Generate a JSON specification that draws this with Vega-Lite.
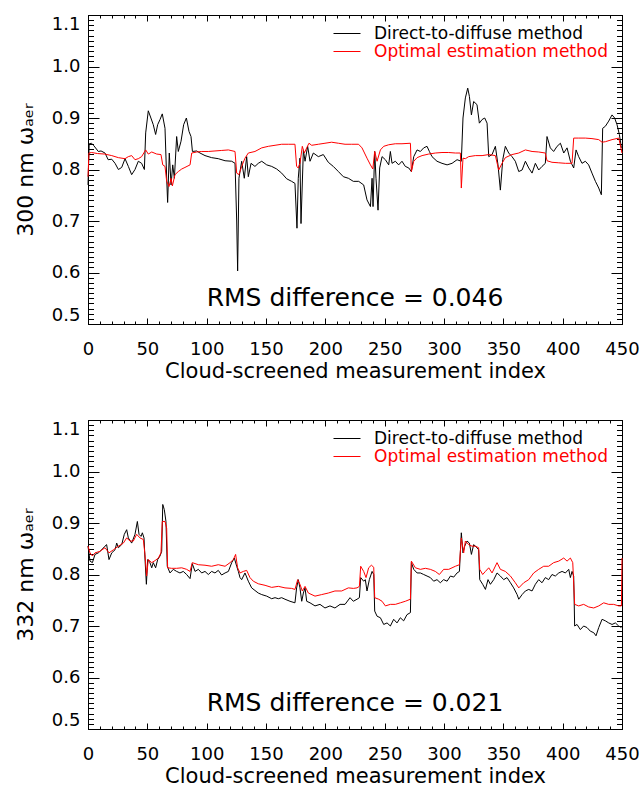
{
  "$schema": "https://vega.github.io/schema/vega-lite/v6.json",
  "padding": {"left": 14, "top": 14, "right": 5, "bottom": 0},
  "background": "white",
  "config": {
    "view": {"stroke": null},
    "font": "DejaVu Sans",
    "axis": {
      "grid": false,
      "domainColor": "black",
      "domainWidth": 1,
      "tickColor": "black",
      "tickWidth": 1,
      "labelColor": "black",
      "titleColor": "black",
      "labelFont": "DejaVu Sans",
      "titleFont": "DejaVu Sans",
      "labelFontSize": 18,
      "titleFontSize": 21,
      "titleFontWeight": "normal",
      "labelOverlap": false
    },
    "legend": {
      "labelFont": "DejaVu Sans",
      "labelFontSize": 17,
      "labelLimit": 0
    }
  },
  "datasets": {
    "d300": [
      {"idx":0,"omega":0.77},{"idx":1,"omega":0.85},{"idx":3,"omega":0.851},{"idx":5,"omega":0.846},{"idx":8.7,"omega":0.835},{"idx":11,"omega":0.836},{"idx":14.3,"omega":0.832},{"idx":17,"omega":0.819},{"idx":20,"omega":0.82},{"idx":22.8,"omega":0.812},{"idx":25.6,"omega":0.8},{"idx":28.4,"omega":0.804},{"idx":31.2,"omega":0.821},{"idx":34,"omega":0.806},{"idx":36.8,"omega":0.79},{"idx":39.6,"omega":0.8},{"idx":42.4,"omega":0.816},{"idx":45.2,"omega":0.812},{"idx":47.5,"omega":0.8},{"idx":48.6,"omega":0.871},{"idx":50.8,"omega":0.914},{"idx":53,"omega":0.9},{"idx":55,"omega":0.887},{"idx":57,"omega":0.868},{"idx":58.7,"omega":0.887},{"idx":60.7,"omega":0.897},{"idx":62.6,"omega":0.908},{"idx":64.9,"omega":0.88},{"idx":66.3,"omega":0.783},{"idx":67.1,"omega":0.736},{"idx":68.5,"omega":0.832},{"idx":70,"omega":0.77},{"idx":71.4,"omega":0.809},{"idx":72.8,"omega":0.783},{"idx":74.7,"omega":0.864},{"idx":76.1,"omega":0.835},{"idx":78.4,"omega":0.855},{"idx":80.6,"omega":0.887},{"idx":82.9,"omega":0.9},{"idx":85.1,"omega":0.874},{"idx":86.8,"omega":0.864},{"idx":88,"omega":0.835},{"idx":91.6,"omega":0.836},{"idx":94.4,"omega":0.832},{"idx":98.6,"omega":0.827},{"idx":104.2,"omega":0.823},{"idx":109.8,"omega":0.821},{"idx":115.5,"omega":0.817},{"idx":121.1,"omega":0.816},{"idx":123.9,"omega":0.812},{"idx":125.3,"omega":0.7},{"idx":126.1,"omega":0.603},{"idx":127.2,"omega":0.783},{"idx":129.5,"omega":0.816},{"idx":131.7,"omega":0.783},{"idx":133.7,"omega":0.825},{"idx":135.1,"omega":0.786},{"idx":137.4,"omega":0.812},{"idx":140.7,"omega":0.806},{"idx":143.5,"omega":0.812},{"idx":146.4,"omega":0.816},{"idx":150.6,"omega":0.809},{"idx":154.8,"omega":0.806},{"idx":159,"omega":0.801},{"idx":163.2,"omega":0.793},{"idx":167.4,"omega":0.782},{"idx":171.6,"omega":0.777},{"idx":174.4,"omega":0.773},{"idx":176.1,"omega":0.686},{"idx":177.2,"omega":0.783},{"idx":178.6,"omega":0.822},{"idx":179.5,"omega":0.695},{"idx":181.5,"omega":0.838},{"idx":182.9,"omega":0.816},{"idx":185.1,"omega":0.845},{"idx":187.1,"omega":0.816},{"idx":189.9,"omega":0.832},{"idx":194.1,"omega":0.825},{"idx":198.3,"omega":0.829},{"idx":202.5,"omega":0.814},{"idx":206.7,"omega":0.806},{"idx":211,"omega":0.796},{"idx":215.2,"omega":0.786},{"idx":219.4,"omega":0.783},{"idx":223.6,"omega":0.777},{"idx":228.1,"omega":0.777},{"idx":232.3,"omega":0.77},{"idx":235.1,"omega":0.741},{"idx":238,"omega":0.728},{"idx":239.4,"omega":0.783},{"idx":240.2,"omega":0.728},{"idx":241.6,"omega":0.835},{"idx":242.7,"omega":0.783},{"idx":244.4,"omega":0.721},{"idx":245.8,"omega":0.803},{"idx":247.8,"omega":0.825},{"idx":250.6,"omega":0.819},{"idx":253.4,"omega":0.809},{"idx":254.8,"omega":0.835},{"idx":256.2,"omega":0.812},{"idx":259,"omega":0.816},{"idx":261.8,"omega":0.809},{"idx":264.6,"omega":0.816},{"idx":267.4,"omega":0.806},{"idx":270.3,"omega":0.803},{"idx":272.5,"omega":0.796},{"idx":274.5,"omega":0.825},{"idx":277.3,"omega":0.838},{"idx":280.1,"omega":0.835},{"idx":282.9,"omega":0.842},{"idx":285.7,"omega":0.845},{"idx":287.7,"omega":0.835},{"idx":289.9,"omega":0.825},{"idx":294.1,"omega":0.816},{"idx":298.3,"omega":0.812},{"idx":302.6,"omega":0.809},{"idx":306.8,"omega":0.812},{"idx":311,"omega":0.819},{"idx":314.6,"omega":0.816},{"idx":316,"omega":0.9},{"idx":318,"omega":0.939},{"idx":320,"omega":0.958},{"idx":321.4,"omega":0.942},{"idx":323.1,"omega":0.906},{"idx":325,"omega":0.932},{"idx":327.8,"omega":0.926},{"idx":329.8,"omega":0.89},{"idx":332.1,"omega":0.897},{"idx":334.3,"omega":0.9},{"idx":336.3,"omega":0.89},{"idx":337.7,"omega":0.825},{"idx":340.5,"omega":0.829},{"idx":343.3,"omega":0.845},{"idx":345.5,"omega":0.809},{"idx":347.5,"omega":0.76},{"idx":349.5,"omega":0.819},{"idx":351.7,"omega":0.845},{"idx":354.5,"omega":0.832},{"idx":357.3,"omega":0.825},{"idx":360.1,"omega":0.816},{"idx":363,"omega":0.796},{"idx":365.8,"omega":0.799},{"idx":368.6,"omega":0.816},{"idx":371.4,"omega":0.803},{"idx":374.2,"omega":0.793},{"idx":377,"omega":0.812},{"idx":379.8,"omega":0.799},{"idx":382.6,"omega":0.806},{"idx":385.4,"omega":0.812},{"idx":386.8,"omega":0.864},{"idx":389.6,"omega":0.842},{"idx":392.4,"omega":0.835},{"idx":395.3,"omega":0.845},{"idx":398.1,"omega":0.851},{"idx":400.9,"omega":0.832},{"idx":403.7,"omega":0.842},{"idx":406.5,"omega":0.816},{"idx":409.3,"omega":0.803},{"idx":411.3,"omega":0.838},{"idx":413.5,"omega":0.825},{"idx":416.3,"omega":0.812},{"idx":419.1,"omega":0.816},{"idx":421.9,"omega":0.809},{"idx":424.7,"omega":0.793},{"idx":427.6,"omega":0.777},{"idx":430.4,"omega":0.764},{"idx":432.6,"omega":0.751},{"idx":433.7,"omega":0.88},{"idx":436,"omega":0.884},{"idx":438.8,"omega":0.894},{"idx":441.6,"omega":0.906},{"idx":443.8,"omega":0.9},{"idx":445.8,"omega":0.887},{"idx":447.8,"omega":0.868},{"idx":449.5,"omega":0.842}
    ],
    "o300": [
      {"idx":0,"omega":0.786},{"idx":0.8,"omega":0.832},{"idx":3,"omega":0.833},{"idx":8,"omega":0.831},{"idx":14,"omega":0.83},{"idx":20,"omega":0.827},{"idx":25.6,"omega":0.823},{"idx":31.2,"omega":0.821},{"idx":34,"omega":0.825},{"idx":36.8,"omega":0.827},{"idx":39.6,"omega":0.819},{"idx":42.4,"omega":0.821},{"idx":45.2,"omega":0.825},{"idx":48.6,"omega":0.838},{"idx":50.8,"omega":0.83},{"idx":53.7,"omega":0.834},{"idx":57.9,"omega":0.83},{"idx":61.5,"omega":0.829},{"idx":63,"omega":0.809},{"idx":64.9,"omega":0.806},{"idx":66.3,"omega":0.777},{"idx":68.3,"omega":0.767},{"idx":70,"omega":0.783},{"idx":71.1,"omega":0.768},{"idx":73.3,"omega":0.79},{"idx":76.1,"omega":0.796},{"idx":79,"omega":0.801},{"idx":81.7,"omega":0.804},{"idx":86,"omega":0.809},{"idx":87.4,"omega":0.832},{"idx":91.6,"omega":0.834},{"idx":95.8,"omega":0.835},{"idx":101.4,"omega":0.835},{"idx":107,"omega":0.836},{"idx":112.7,"omega":0.837},{"idx":118.3,"omega":0.838},{"idx":123.9,"omega":0.835},{"idx":125.3,"omega":0.793},{"idx":127.2,"omega":0.79},{"idx":129.5,"omega":0.806},{"idx":132.3,"omega":0.822},{"idx":135.1,"omega":0.832},{"idx":140.7,"omega":0.835},{"idx":146.4,"omega":0.842},{"idx":152,"omega":0.845},{"idx":157.6,"omega":0.847},{"idx":163.2,"omega":0.849},{"idx":168.8,"omega":0.849},{"idx":174.4,"omega":0.849},{"idx":175.8,"omega":0.806},{"idx":177.2,"omega":0.803},{"idx":178.6,"omega":0.812},{"idx":180.6,"omega":0.845},{"idx":182.3,"omega":0.832},{"idx":184.3,"omega":0.842},{"idx":186.2,"omega":0.851},{"idx":188.5,"omega":0.847},{"idx":194.1,"omega":0.849},{"idx":199.7,"omega":0.851},{"idx":205.3,"omega":0.853},{"idx":211,"omega":0.851},{"idx":216.6,"omega":0.849},{"idx":222.2,"omega":0.849},{"idx":228,"omega":0.849},{"idx":230.9,"omega":0.842},{"idx":235.1,"omega":0.822},{"idx":238,"omega":0.809},{"idx":240,"omega":0.801},{"idx":241.6,"omega":0.835},{"idx":243.6,"omega":0.816},{"idx":246.4,"omega":0.838},{"idx":249.2,"omega":0.845},{"idx":253.4,"omega":0.848},{"idx":259,"omega":0.85},{"idx":264.6,"omega":0.85},{"idx":271.7,"omega":0.851},{"idx":272.5,"omega":0.796},{"idx":274.5,"omega":0.816},{"idx":277.3,"omega":0.823},{"idx":281.5,"omega":0.827},{"idx":287.1,"omega":0.83},{"idx":292.7,"omega":0.832},{"idx":298.3,"omega":0.833},{"idx":304,"omega":0.833},{"idx":309.6,"omega":0.832},{"idx":313.8,"omega":0.832},{"idx":314.6,"omega":0.764},{"idx":316,"omega":0.822},{"idx":318,"omega":0.821},{"idx":320.8,"omega":0.825},{"idx":326.4,"omega":0.827},{"idx":332.1,"omega":0.827},{"idx":337.7,"omega":0.829},{"idx":343.3,"omega":0.827},{"idx":346.1,"omega":0.799},{"idx":348.9,"omega":0.812},{"idx":351.7,"omega":0.823},{"idx":357.3,"omega":0.829},{"idx":363,"omega":0.832},{"idx":368.6,"omega":0.838},{"idx":374.2,"omega":0.835},{"idx":379.8,"omega":0.834},{"idx":385.4,"omega":0.832},{"idx":386.8,"omega":0.817},{"idx":391,"omega":0.814},{"idx":396.7,"omega":0.813},{"idx":402.3,"omega":0.812},{"idx":407.9,"omega":0.812},{"idx":409.3,"omega":0.861},{"idx":413.5,"omega":0.861},{"idx":419.1,"omega":0.861},{"idx":424.7,"omega":0.86},{"idx":430.4,"omega":0.858},{"idx":433.2,"omega":0.853},{"idx":436,"omega":0.854},{"idx":441.6,"omega":0.858},{"idx":447.3,"omega":0.861},{"idx":450,"omega":0.832}
    ],
    "d332": [
      {"idx":0,"omega":0.855},{"idx":1.7,"omega":0.826},{"idx":3.7,"omega":0.823},{"idx":5.9,"omega":0.839},{"idx":8.7,"omega":0.842},{"idx":11.5,"omega":0.848},{"idx":14.3,"omega":0.855},{"idx":15.7,"omega":0.858},{"idx":17.7,"omega":0.829},{"idx":20,"omega":0.842},{"idx":22.8,"omega":0.848},{"idx":24.2,"omega":0.861},{"idx":25.6,"omega":0.852},{"idx":28.4,"omega":0.858},{"idx":30.6,"omega":0.878},{"idx":32.6,"omega":0.887},{"idx":34,"omega":0.871},{"idx":36.8,"omega":0.861},{"idx":39.6,"omega":0.878},{"idx":41.6,"omega":0.903},{"idx":43,"omega":0.878},{"idx":44.7,"omega":0.874},{"idx":45.8,"omega":0.881},{"idx":47.2,"omega":0.871},{"idx":48,"omega":0.832},{"idx":49.2,"omega":0.781},{"idx":50.3,"omega":0.829},{"idx":52.2,"omega":0.823},{"idx":53.7,"omega":0.813},{"idx":55,"omega":0.823},{"idx":57,"omega":0.813},{"idx":58.7,"omega":0.829},{"idx":60.7,"omega":0.836},{"idx":62.1,"omega":0.845},{"idx":63,"omega":0.936},{"idx":64.3,"omega":0.926},{"idx":65.7,"omega":0.903},{"idx":66.8,"omega":0.816},{"idx":69.1,"omega":0.803},{"idx":71.9,"omega":0.81},{"idx":74.7,"omega":0.806},{"idx":77.5,"omega":0.803},{"idx":80.3,"omega":0.806},{"idx":83.1,"omega":0.8},{"idx":86,"omega":0.792},{"idx":87.9,"omega":0.821},{"idx":90.2,"omega":0.806},{"idx":93,"omega":0.81},{"idx":95.8,"omega":0.803},{"idx":98.6,"omega":0.806},{"idx":101.4,"omega":0.8},{"idx":104.2,"omega":0.806},{"idx":107,"omega":0.803},{"idx":109.8,"omega":0.808},{"idx":112.6,"omega":0.799},{"idx":115.5,"omega":0.803},{"idx":118.3,"omega":0.806},{"idx":121.1,"omega":0.823},{"idx":123.3,"omega":0.832},{"idx":125.3,"omega":0.816},{"idx":126.7,"omega":0.806},{"idx":128.1,"omega":0.794},{"idx":129.5,"omega":0.79},{"idx":132.3,"omega":0.803},{"idx":135.1,"omega":0.787},{"idx":137.9,"omega":0.774},{"idx":140.7,"omega":0.769},{"idx":143.5,"omega":0.764},{"idx":146.4,"omega":0.761},{"idx":150.6,"omega":0.758},{"idx":154.8,"omega":0.753},{"idx":157.6,"omega":0.755},{"idx":160.4,"omega":0.753},{"idx":163.2,"omega":0.755},{"idx":166,"omega":0.752},{"idx":170.2,"omega":0.748},{"idx":174.4,"omega":0.745},{"idx":175.8,"omega":0.774},{"idx":177.2,"omega":0.79},{"idx":178.6,"omega":0.774},{"idx":180.1,"omega":0.748},{"idx":181.5,"omega":0.764},{"idx":182.9,"omega":0.774},{"idx":184.3,"omega":0.748},{"idx":187.1,"omega":0.745},{"idx":191.3,"omega":0.739},{"idx":195.5,"omega":0.742},{"idx":199.7,"omega":0.735},{"idx":203.9,"omega":0.739},{"idx":208.1,"omega":0.735},{"idx":212.4,"omega":0.742},{"idx":216.6,"omega":0.742},{"idx":220.8,"omega":0.755},{"idx":223.6,"omega":0.748},{"idx":226.7,"omega":0.752},{"idx":228.7,"omega":0.755},{"idx":229.8,"omega":0.794},{"idx":232.3,"omega":0.787},{"idx":233.7,"omega":0.79},{"idx":235.1,"omega":0.768},{"idx":237.1,"omega":0.79},{"idx":239.4,"omega":0.806},{"idx":240.8,"omega":0.8},{"idx":241.6,"omega":0.729},{"idx":243.6,"omega":0.719},{"idx":246.4,"omega":0.716},{"idx":249.2,"omega":0.703},{"idx":252,"omega":0.706},{"idx":254.8,"omega":0.7},{"idx":257.6,"omega":0.713},{"idx":260.4,"omega":0.706},{"idx":263.2,"omega":0.716},{"idx":266,"omega":0.71},{"idx":268.8,"omega":0.722},{"idx":271.7,"omega":0.726},{"idx":272.5,"omega":0.823},{"idx":274.5,"omega":0.81},{"idx":277.3,"omega":0.803},{"idx":280.1,"omega":0.803},{"idx":282.9,"omega":0.8},{"idx":285.7,"omega":0.797},{"idx":288.5,"omega":0.794},{"idx":291.3,"omega":0.787},{"idx":294.1,"omega":0.79},{"idx":296.9,"omega":0.784},{"idx":299.7,"omega":0.79},{"idx":302.6,"omega":0.787},{"idx":305.4,"omega":0.797},{"idx":308.2,"omega":0.795},{"idx":311,"omega":0.803},{"idx":313,"omega":0.806},{"idx":314.6,"omega":0.881},{"idx":316,"omega":0.842},{"idx":317.4,"omega":0.855},{"idx":319.4,"omega":0.865},{"idx":321.4,"omega":0.861},{"idx":323.1,"omega":0.839},{"idx":325,"omega":0.858},{"idx":327.8,"omega":0.852},{"idx":329.2,"omega":0.848},{"idx":330.1,"omega":0.79},{"idx":332.6,"omega":0.781},{"idx":334.9,"omega":0.771},{"idx":337.1,"omega":0.79},{"idx":339.1,"omega":0.781},{"idx":341.9,"omega":0.79},{"idx":344.7,"omega":0.803},{"idx":347.5,"omega":0.797},{"idx":350.3,"omega":0.79},{"idx":353.1,"omega":0.794},{"idx":356,"omega":0.784},{"idx":358.7,"omega":0.774},{"idx":361.6,"omega":0.761},{"idx":363,"omega":0.752},{"idx":365.8,"omega":0.761},{"idx":368.6,"omega":0.768},{"idx":371.4,"omega":0.771},{"idx":374.2,"omega":0.768},{"idx":377,"omega":0.781},{"idx":379.8,"omega":0.79},{"idx":382.6,"omega":0.784},{"idx":385.4,"omega":0.794},{"idx":388.2,"omega":0.79},{"idx":391,"omega":0.8},{"idx":393.8,"omega":0.797},{"idx":396.7,"omega":0.803},{"idx":399.5,"omega":0.806},{"idx":402.3,"omega":0.803},{"idx":405.1,"omega":0.81},{"idx":406.5,"omega":0.794},{"idx":407.9,"omega":0.806},{"idx":409.3,"omega":0.797},{"idx":410.1,"omega":0.7},{"idx":412.1,"omega":0.703},{"idx":414.9,"omega":0.693},{"idx":417.7,"omega":0.7},{"idx":420.5,"omega":0.697},{"idx":423.3,"omega":0.69},{"idx":426.2,"omega":0.687},{"idx":428.1,"omega":0.681},{"idx":430.4,"omega":0.697},{"idx":433.2,"omega":0.713},{"idx":436,"omega":0.71},{"idx":438.8,"omega":0.706},{"idx":441.6,"omega":0.703},{"idx":444.4,"omega":0.706},{"idx":447.2,"omega":0.7},{"idx":449.5,"omega":0.697}
    ],
    "o332": [
      {"idx":0,"omega":0.855},{"idx":1.7,"omega":0.842},{"idx":3.7,"omega":0.836},{"idx":5.9,"omega":0.842},{"idx":10.1,"omega":0.845},{"idx":14.3,"omega":0.852},{"idx":17.7,"omega":0.842},{"idx":21.4,"omega":0.848},{"idx":25.6,"omega":0.855},{"idx":29.8,"omega":0.861},{"idx":32.6,"omega":0.871},{"idx":35.4,"omega":0.865},{"idx":38.2,"omega":0.865},{"idx":41,"omega":0.878},{"idx":43.8,"omega":0.871},{"idx":46.6,"omega":0.868},{"idx":48,"omega":0.839},{"idx":49.4,"omega":0.797},{"idx":50.8,"omega":0.829},{"idx":53.7,"omega":0.823},{"idx":56.5,"omega":0.827},{"idx":59.3,"omega":0.832},{"idx":61.5,"omega":0.842},{"idx":62.6,"omega":0.903},{"idx":64.9,"omega":0.903},{"idx":66.3,"omega":0.89},{"idx":67.1,"omega":0.813},{"idx":70.5,"omega":0.812},{"idx":74.7,"omega":0.812},{"idx":79,"omega":0.813},{"idx":83.1,"omega":0.81},{"idx":86,"omega":0.806},{"idx":87.9,"omega":0.823},{"idx":93,"omega":0.819},{"idx":98.6,"omega":0.818},{"idx":104.2,"omega":0.816},{"idx":109.8,"omega":0.819},{"idx":115.5,"omega":0.816},{"idx":119.7,"omega":0.823},{"idx":122.5,"omega":0.829},{"idx":124.4,"omega":0.839},{"idx":126.1,"omega":0.813},{"idx":128.1,"omega":0.803},{"idx":130.9,"omega":0.806},{"idx":133.7,"omega":0.808},{"idx":136.5,"omega":0.794},{"idx":139.3,"omega":0.787},{"idx":143.5,"omega":0.782},{"idx":149.2,"omega":0.779},{"idx":154.8,"omega":0.775},{"idx":160.4,"omega":0.777},{"idx":166,"omega":0.774},{"idx":171.6,"omega":0.773},{"idx":174.4,"omega":0.771},{"idx":176.7,"omega":0.79},{"idx":178.6,"omega":0.781},{"idx":180.6,"omega":0.768},{"idx":182.9,"omega":0.777},{"idx":185.7,"omega":0.764},{"idx":191.3,"omega":0.758},{"idx":196.9,"omega":0.761},{"idx":202.5,"omega":0.764},{"idx":208.1,"omega":0.768},{"idx":213.8,"omega":0.768},{"idx":219.4,"omega":0.774},{"idx":223.6,"omega":0.773},{"idx":226.7,"omega":0.774},{"idx":228.7,"omega":0.777},{"idx":229.8,"omega":0.816},{"idx":232.3,"omega":0.806},{"idx":234.3,"omega":0.794},{"idx":236.5,"omega":0.813},{"idx":238.8,"omega":0.818},{"idx":240.8,"omega":0.814},{"idx":241.6,"omega":0.755},{"idx":245,"omega":0.752},{"idx":247.8,"omega":0.748},{"idx":250.6,"omega":0.739},{"idx":254.8,"omega":0.742},{"idx":259,"omega":0.742},{"idx":263.2,"omega":0.745},{"idx":267.4,"omega":0.748},{"idx":271.7,"omega":0.752},{"idx":272.5,"omega":0.826},{"idx":275.9,"omega":0.813},{"idx":280.1,"omega":0.81},{"idx":284.3,"omega":0.812},{"idx":288.5,"omega":0.81},{"idx":292.7,"omega":0.806},{"idx":296.1,"omega":0.8},{"idx":299.7,"omega":0.81},{"idx":304,"omega":0.81},{"idx":309.6,"omega":0.816},{"idx":313,"omega":0.819},{"idx":314.6,"omega":0.871},{"idx":316.6,"omega":0.842},{"idx":318,"omega":0.865},{"idx":320.8,"omega":0.858},{"idx":323.6,"omega":0.855},{"idx":326.4,"omega":0.855},{"idx":329.2,"omega":0.852},{"idx":330.1,"omega":0.81},{"idx":332.6,"omega":0.8},{"idx":334.9,"omega":0.806},{"idx":337.7,"omega":0.813},{"idx":340.5,"omega":0.803},{"idx":344.7,"omega":0.823},{"idx":347.5,"omega":0.81},{"idx":351.7,"omega":0.806},{"idx":356,"omega":0.797},{"idx":360.1,"omega":0.784},{"idx":363,"omega":0.774},{"idx":367.2,"omega":0.784},{"idx":371.4,"omega":0.79},{"idx":375.6,"omega":0.803},{"idx":379.8,"omega":0.81},{"idx":384,"omega":0.816},{"idx":388.2,"omega":0.816},{"idx":392.4,"omega":0.823},{"idx":396.7,"omega":0.826},{"idx":400.9,"omega":0.832},{"idx":403.7,"omega":0.826},{"idx":406.5,"omega":0.832},{"idx":408.5,"omega":0.823},{"idx":410.1,"omega":0.742},{"idx":413.5,"omega":0.739},{"idx":417.7,"omega":0.742},{"idx":421.9,"omega":0.737},{"idx":426.2,"omega":0.735},{"idx":430.4,"omega":0.739},{"idx":434.6,"omega":0.745},{"idx":438.8,"omega":0.742},{"idx":443,"omega":0.742},{"idx":447.2,"omega":0.739},{"idx":449.5,"omega":0.739},{"idx":450,"omega":0.832}
    ]
  },
  "vconcat": [
    {
      "width": 534,
      "height": 309,
      "layer": [
        {
          "data": {"name": "d300"},
          "mark": {"type": "line", "strokeWidth": 1},
          "encoding": {
            "x": {"field": "idx", "type": "quantitative",
              "scale": {"domain": [0, 450], "nice": false, "zero": false},
              "axis": {"orient": "bottom", "values": [0,50,100,150,200,250,300,350,400,450], "format": "d",
                "tickSize": -6, "labelPadding": 22, "labelFlush": false,
                "title": "Cloud-screened measurement index", "titleY": 47, "titleBaseline": "middle"}},
            "y": {"field": "omega", "type": "quantitative",
              "scale": {"domain": [0.5, 1.1], "nice": false, "zero": false},
              "axis": {"orient": "left", "values": [0.5,0.6,0.7,0.8,0.9,1.0,1.1], "format": ".1f",
                "tickSize": -11, "labelPadding": 19, "labelFlush": true,
                "title": "300 nm ωₐₑᵣ", "titleFontSize": 22, "titleX": -63, "titleBaseline": "middle"}},
            "color": {"datum": "Direct-to-diffuse method", "type": "nominal",
              "scale": {"domain": ["Direct-to-diffuse method", "Optimal estimation method"], "range": ["#000000", "#ff0000"]},
              "legend": {"orient": "none", "legendX": 245, "legendY": 10, "title": null, "padding": 0,
                "symbolType": "stroke", "symbolSize": 729, "symbolStrokeWidth": 1,
                "labelFontSize": 17, "labelOffset": 13, "rowPadding": 0, "clipHeight": 17, "labelLimit": 0,
                "encode": {"labels": {"update": {"fill": {"signal": "datum.value === 'Optimal estimation method' ? '#ff0000' : '#000000'"}}}}}}
          }
        },
        {
          "data": {"name": "o300"},
          "mark": {"type": "line", "strokeWidth": 1},
          "encoding": {
            "x": {"field": "idx", "type": "quantitative", "axis": null},
            "y": {"field": "omega", "type": "quantitative", "axis": null},
            "color": {"datum": "Optimal estimation method", "type": "nominal",
              "scale": {"domain": ["Direct-to-diffuse method", "Optimal estimation method"], "range": ["#000000", "#ff0000"]},
              "legend": {"orient": "none", "legendX": 245, "legendY": 10, "title": null, "padding": 0,
                "symbolType": "stroke", "symbolSize": 729, "symbolStrokeWidth": 1,
                "labelFontSize": 17, "labelOffset": 13, "rowPadding": 0, "clipHeight": 17, "labelLimit": 0,
                "encode": {"labels": {"update": {"fill": {"signal": "datum.value === 'Optimal estimation method' ? '#ff0000' : '#000000'"}}}}}}
          }
        },
        {
          "data": {"values": [{}]},
          "mark": {"type": "point", "opacity": 0},
          "encoding": {
            "x": {"datum": 0, "type": "quantitative",
              "axis": {"orient": "bottom", "values": [0,10,20,30,40,50,60,70,80,90,100,110,120,130,140,150,160,170,180,190,200,210,220,230,240,250,260,270,280,290,300,310,320,330,340,350,360,370,380,390,400,410,420,430,440,450],
                "tickSize": -3, "labels": false, "domain": false, "title": null}},
            "y": {"datum": 0.5, "type": "quantitative",
              "axis": {"orient": "left", "values": [0.5,0.51,0.52,0.53,0.54,0.55,0.56,0.57,0.58,0.59,0.6,0.61,0.62,0.63,0.64,0.65,0.66,0.67,0.68,0.69,0.7,0.71,0.72,0.73,0.74,0.75,0.76,0.77,0.78,0.79,0.8,0.81,0.82,0.83,0.84,0.85,0.86,0.87,0.88,0.89,0.9,0.91,0.92,0.93,0.94,0.95,0.96,0.97,0.98,0.99,1,1.01,1.02,1.03,1.04,1.05,1.06,1.07,1.08,1.09,1.1],
                "tickSize": -5.5, "labels": false, "domain": false, "title": null}}
          }
        },
        {
          "data": {"values": [{}]},
          "mark": {"type": "point", "opacity": 0},
          "encoding": {
            "x": {"datum": 0, "type": "quantitative",
              "axis": {"orient": "top", "values": [0,50,100,150,200,250,300,350,400,450],
                "tickSize": -6, "labels": false, "title": null}},
            "y": {"datum": 0.5, "type": "quantitative",
              "axis": {"orient": "right", "values": [0.5,0.6,0.7,0.8,0.9,1.0,1.1],
                "tickSize": -11, "labels": false, "title": null}}
          }
        },
        {
          "data": {"values": [{}]},
          "mark": {"type": "point", "opacity": 0},
          "encoding": {
            "x": {"datum": 0, "type": "quantitative",
              "axis": {"orient": "top", "values": [0,10,20,30,40,50,60,70,80,90,100,110,120,130,140,150,160,170,180,190,200,210,220,230,240,250,260,270,280,290,300,310,320,330,340,350,360,370,380,390,400,410,420,430,440,450],
                "tickSize": -3, "labels": false, "domain": false, "title": null}},
            "y": {"datum": 0.5, "type": "quantitative",
              "axis": {"orient": "right", "values": [0.5,0.51,0.52,0.53,0.54,0.55,0.56,0.57,0.58,0.59,0.6,0.61,0.62,0.63,0.64,0.65,0.66,0.67,0.68,0.69,0.7,0.71,0.72,0.73,0.74,0.75,0.76,0.77,0.78,0.79,0.8,0.81,0.82,0.83,0.84,0.85,0.86,0.87,0.88,0.89,0.9,0.91,0.92,0.93,0.94,0.95,0.96,0.97,0.98,0.99,1,1.01,1.02,1.03,1.04,1.05,1.06,1.07,1.08,1.09,1.1],
                "tickSize": -5.5, "labels": false, "domain": false, "title": null}}
          }
        },
        {
          "data": {"values": [{"label": "RMS difference = 0.046"}]},
          "mark": {"type": "text", "font": "DejaVu Sans", "fontSize": 25, "align": "center", "baseline": "middle", "color": "#000000"},
          "encoding": {
            "x": {"datum": 225, "type": "quantitative", "axis": null},
            "y": {"datum": 0.55, "type": "quantitative", "axis": null},
            "text": {"field": "label"}
          }
        }
      ],
      "resolve": {"axis": {"x": "independent", "y": "independent"}}
    },
    {
      "width": 534,
      "height": 309,
      "layer": [
        {
          "data": {"name": "d332"},
          "mark": {"type": "line", "strokeWidth": 1},
          "encoding": {
            "x": {"field": "idx", "type": "quantitative",
              "scale": {"domain": [0, 450], "nice": false, "zero": false},
              "axis": {"orient": "bottom", "values": [0,50,100,150,200,250,300,350,400,450], "format": "d",
                "tickSize": -6, "labelPadding": 22, "labelFlush": false,
                "title": "Cloud-screened measurement index", "titleY": 47, "titleBaseline": "middle"}},
            "y": {"field": "omega", "type": "quantitative",
              "scale": {"domain": [0.5, 1.1], "nice": false, "zero": false},
              "axis": {"orient": "left", "values": [0.5,0.6,0.7,0.8,0.9,1.0,1.1], "format": ".1f",
                "tickSize": -11, "labelPadding": 19, "labelFlush": true,
                "title": "332 nm ωₐₑᵣ", "titleFontSize": 22, "titleX": -63, "titleBaseline": "middle"}},
            "color": {"datum": "Direct-to-diffuse method", "type": "nominal",
              "scale": {"domain": ["Direct-to-diffuse method", "Optimal estimation method"], "range": ["#000000", "#ff0000"]},
              "legend": {"orient": "none", "legendX": 245, "legendY": 10, "title": null, "padding": 0,
                "symbolType": "stroke", "symbolSize": 729, "symbolStrokeWidth": 1,
                "labelFontSize": 17, "labelOffset": 13, "rowPadding": 0, "clipHeight": 17, "labelLimit": 0,
                "encode": {"labels": {"update": {"fill": {"signal": "datum.value === 'Optimal estimation method' ? '#ff0000' : '#000000'"}}}}}}
          }
        },
        {
          "data": {"name": "o332"},
          "mark": {"type": "line", "strokeWidth": 1},
          "encoding": {
            "x": {"field": "idx", "type": "quantitative", "axis": null},
            "y": {"field": "omega", "type": "quantitative", "axis": null},
            "color": {"datum": "Optimal estimation method", "type": "nominal",
              "scale": {"domain": ["Direct-to-diffuse method", "Optimal estimation method"], "range": ["#000000", "#ff0000"]},
              "legend": {"orient": "none", "legendX": 245, "legendY": 10, "title": null, "padding": 0,
                "symbolType": "stroke", "symbolSize": 729, "symbolStrokeWidth": 1,
                "labelFontSize": 17, "labelOffset": 13, "rowPadding": 0, "clipHeight": 17, "labelLimit": 0,
                "encode": {"labels": {"update": {"fill": {"signal": "datum.value === 'Optimal estimation method' ? '#ff0000' : '#000000'"}}}}}}
          }
        },
        {
          "data": {"values": [{}]},
          "mark": {"type": "point", "opacity": 0},
          "encoding": {
            "x": {"datum": 0, "type": "quantitative",
              "axis": {"orient": "bottom", "values": [0,10,20,30,40,50,60,70,80,90,100,110,120,130,140,150,160,170,180,190,200,210,220,230,240,250,260,270,280,290,300,310,320,330,340,350,360,370,380,390,400,410,420,430,440,450],
                "tickSize": -3, "labels": false, "domain": false, "title": null}},
            "y": {"datum": 0.5, "type": "quantitative",
              "axis": {"orient": "left", "values": [0.5,0.51,0.52,0.53,0.54,0.55,0.56,0.57,0.58,0.59,0.6,0.61,0.62,0.63,0.64,0.65,0.66,0.67,0.68,0.69,0.7,0.71,0.72,0.73,0.74,0.75,0.76,0.77,0.78,0.79,0.8,0.81,0.82,0.83,0.84,0.85,0.86,0.87,0.88,0.89,0.9,0.91,0.92,0.93,0.94,0.95,0.96,0.97,0.98,0.99,1,1.01,1.02,1.03,1.04,1.05,1.06,1.07,1.08,1.09,1.1],
                "tickSize": -5.5, "labels": false, "domain": false, "title": null}}
          }
        },
        {
          "data": {"values": [{}]},
          "mark": {"type": "point", "opacity": 0},
          "encoding": {
            "x": {"datum": 0, "type": "quantitative",
              "axis": {"orient": "top", "values": [0,50,100,150,200,250,300,350,400,450],
                "tickSize": -6, "labels": false, "title": null}},
            "y": {"datum": 0.5, "type": "quantitative",
              "axis": {"orient": "right", "values": [0.5,0.6,0.7,0.8,0.9,1.0,1.1],
                "tickSize": -11, "labels": false, "title": null}}
          }
        },
        {
          "data": {"values": [{}]},
          "mark": {"type": "point", "opacity": 0},
          "encoding": {
            "x": {"datum": 0, "type": "quantitative",
              "axis": {"orient": "top", "values": [0,10,20,30,40,50,60,70,80,90,100,110,120,130,140,150,160,170,180,190,200,210,220,230,240,250,260,270,280,290,300,310,320,330,340,350,360,370,380,390,400,410,420,430,440,450],
                "tickSize": -3, "labels": false, "domain": false, "title": null}},
            "y": {"datum": 0.5, "type": "quantitative",
              "axis": {"orient": "right", "values": [0.5,0.51,0.52,0.53,0.54,0.55,0.56,0.57,0.58,0.59,0.6,0.61,0.62,0.63,0.64,0.65,0.66,0.67,0.68,0.69,0.7,0.71,0.72,0.73,0.74,0.75,0.76,0.77,0.78,0.79,0.8,0.81,0.82,0.83,0.84,0.85,0.86,0.87,0.88,0.89,0.9,0.91,0.92,0.93,0.94,0.95,0.96,0.97,0.98,0.99,1,1.01,1.02,1.03,1.04,1.05,1.06,1.07,1.08,1.09,1.1],
                "tickSize": -5.5, "labels": false, "domain": false, "title": null}}
          }
        },
        {
          "data": {"values": [{"label": "RMS difference = 0.021"}]},
          "mark": {"type": "text", "font": "DejaVu Sans", "fontSize": 25, "align": "center", "baseline": "middle", "color": "#000000"},
          "encoding": {
            "x": {"datum": 225, "type": "quantitative", "axis": null},
            "y": {"datum": 0.55, "type": "quantitative", "axis": null},
            "text": {"field": "label"}
          }
        }
      ],
      "resolve": {"axis": {"x": "independent", "y": "independent"}}
    }
  ],
  "spacing": 96,
  "bounds": "flush",
  "resolve": {"scale": {"color": "independent"}}
}
